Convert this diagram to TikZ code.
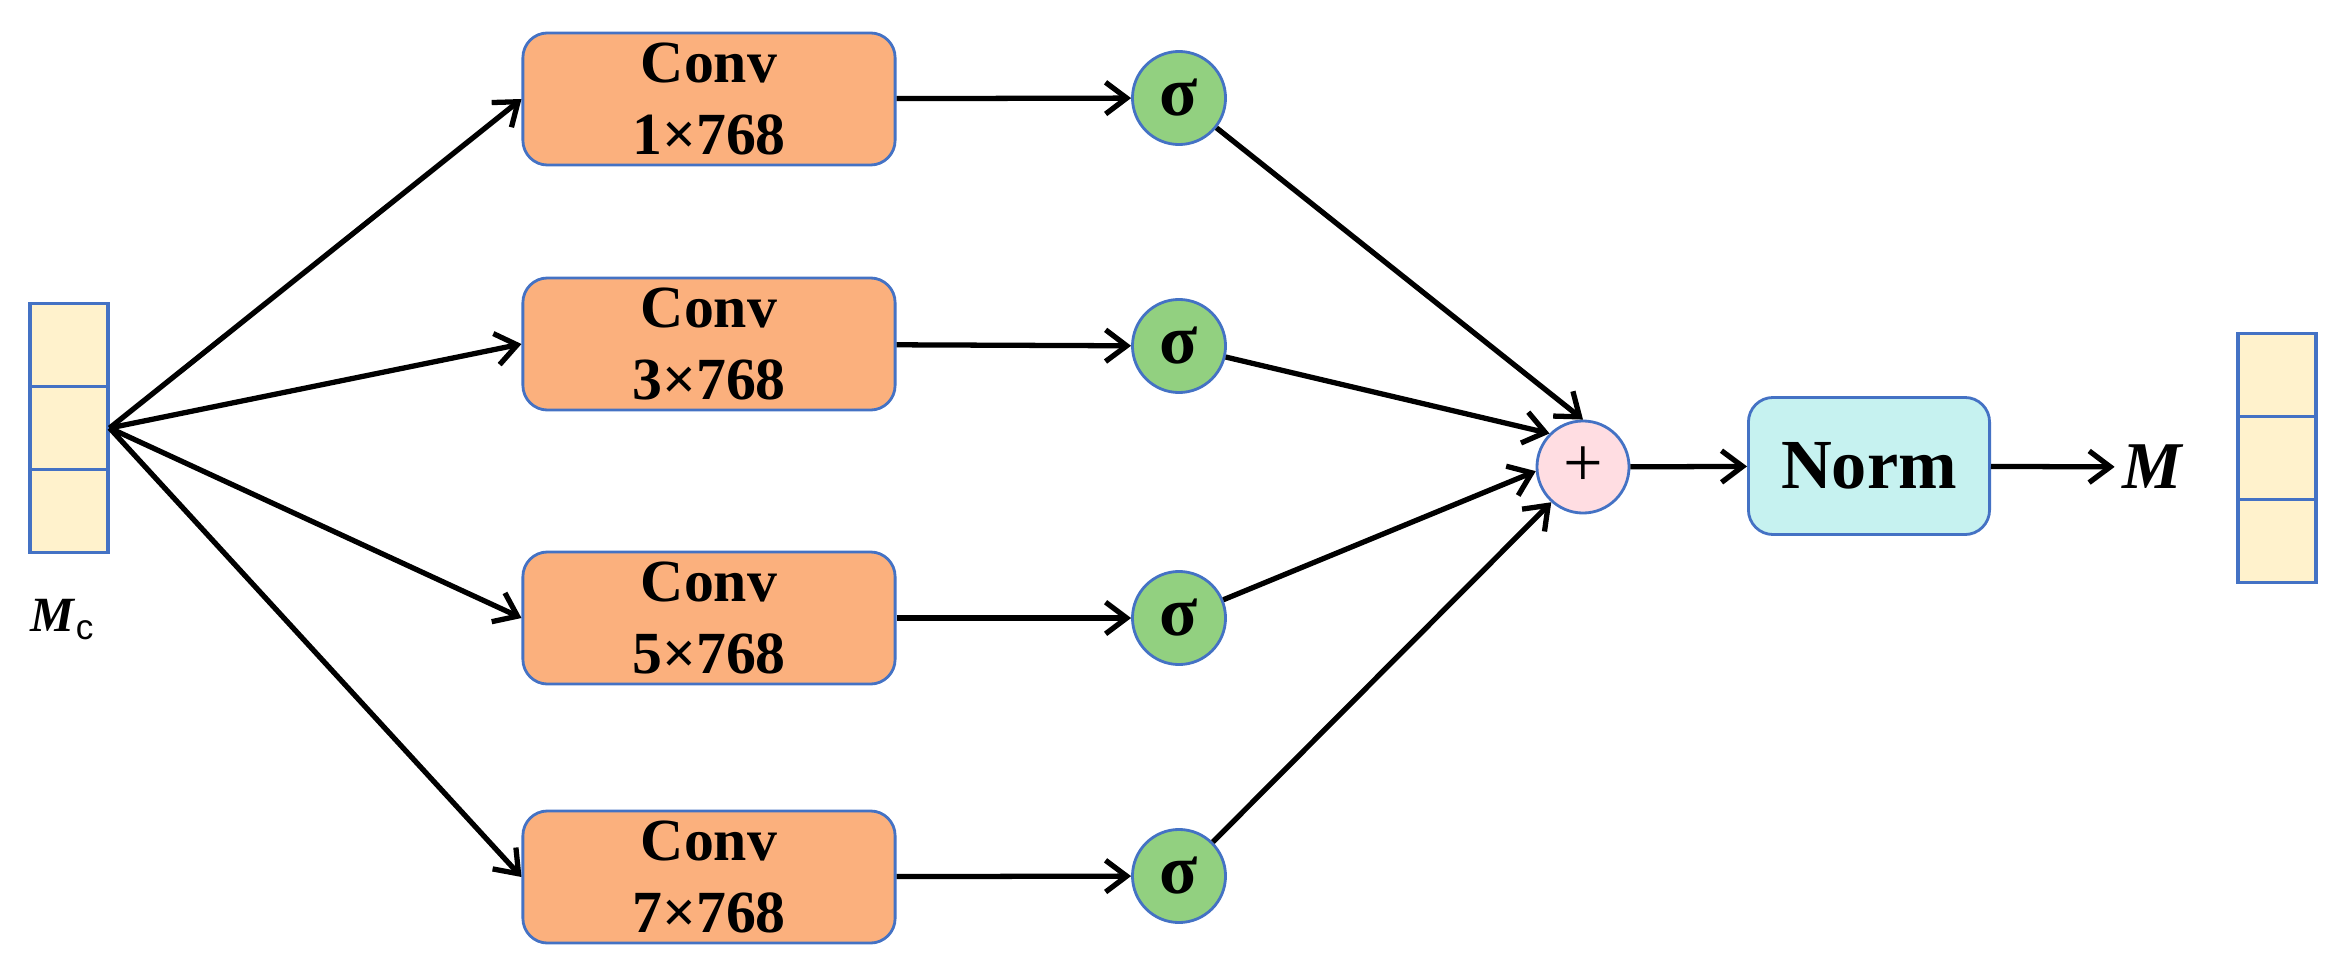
\documentclass[tikz,border=0pt]{standalone}
\usepackage{fontspec}
\setmainfont{Liberation Serif}
\newfontfamily\sansf{Liberation Sans}
\usetikzlibrary{arrows.meta,positioning}
\definecolor{convfill}{RGB}{251,176,125}
\definecolor{edgeblue}{RGB}{68,114,196}
\definecolor{sigfill}{RGB}{146,208,128}
\definecolor{plusfill}{RGB}{255,221,226}
\definecolor{normfill}{RGB}{198,242,240}
\definecolor{cellfill}{RGB}{255,242,204}

\begin{document}
\begin{tikzpicture}[x=0.01cm,y=-0.01cm,
  conv/.style={draw=edgeblue,fill=convfill,rounded corners=7pt,minimum width=3.72cm,minimum height=1.32cm,
    align=center,inner sep=0pt,font=\bfseries\fontsize{17}{20.5}\selectfont,line width=0.8pt},
  sig/.style={circle,draw=edgeblue,fill=sigfill,minimum size=0.93cm,inner sep=0pt,
    font=\bfseries\fontsize{20}{20}\selectfont,line width=0.8pt},
  cell/.style={draw=edgeblue,fill=cellfill,minimum width=0.78cm,minimum height=0.83cm,inner sep=0pt,line width=0.9pt},
  arr/.style={-{Straight Barb[length=6pt,width=9pt]},line width=1.5pt}]
\useasboundingbox (0,0) rectangle (2345,976);
% input and output stacks
\node[cell] (mc1) at (69,345) {}; \node[cell] (mc2) at (69,428) {}; \node[cell] (mc3) at (69,511) {};
\node[cell] (mo1) at (2277,375) {}; \node[cell] (mo2) at (2277,458) {}; \node[cell] (mo3) at (2277,541) {};
\node[font=\fontsize{14}{14}\selectfont] (mclabel) at (62,620) {\textbf{\textit{M}}\raisebox{-0.35ex}{\sansf\fontsize{10}{10}\selectfont c}};
% branches
\foreach \i/\k/\y/\ys in {1/1/99/98,2/3/344/346,3/5/618/618,4/7/877/876} {
  \node[conv] (conv\i) at (709,\y) {Conv\\\k\texttimes768};
  \node[sig] (sig\i) at (1179,\ys) {σ};
}
\node[circle,draw=edgeblue,fill=plusfill,minimum size=0.92cm,inner sep=0pt,line width=0.8pt,
  font=\fontsize{20}{20}\selectfont] (plus) at (1583,467) {+};
\node[draw=edgeblue,fill=normfill,rounded corners=7pt,minimum width=2.41cm,minimum height=1.37cm,line width=0.8pt,
  font=\bfseries\fontsize{20}{20}\selectfont] (norm) at (1869,466) {Norm};
\node[inner sep=2pt,font=\fontsize{19}{19}\selectfont] (mout) at (2153,467) {\textbf{\textit{M}}};
% connectors
\foreach \i/\a in {1/90,2/135,3/185,4/228} {
  \draw[arr] (mc2.east) -- (conv\i.west);
  \draw[arr] (conv\i) -- (sig\i);
  \draw[arr] (sig\i) -- (plus.\a);
}
\draw[arr] (plus) -- (norm);
\draw[arr] (norm) -- (mout);
\end{tikzpicture}
\end{document}
